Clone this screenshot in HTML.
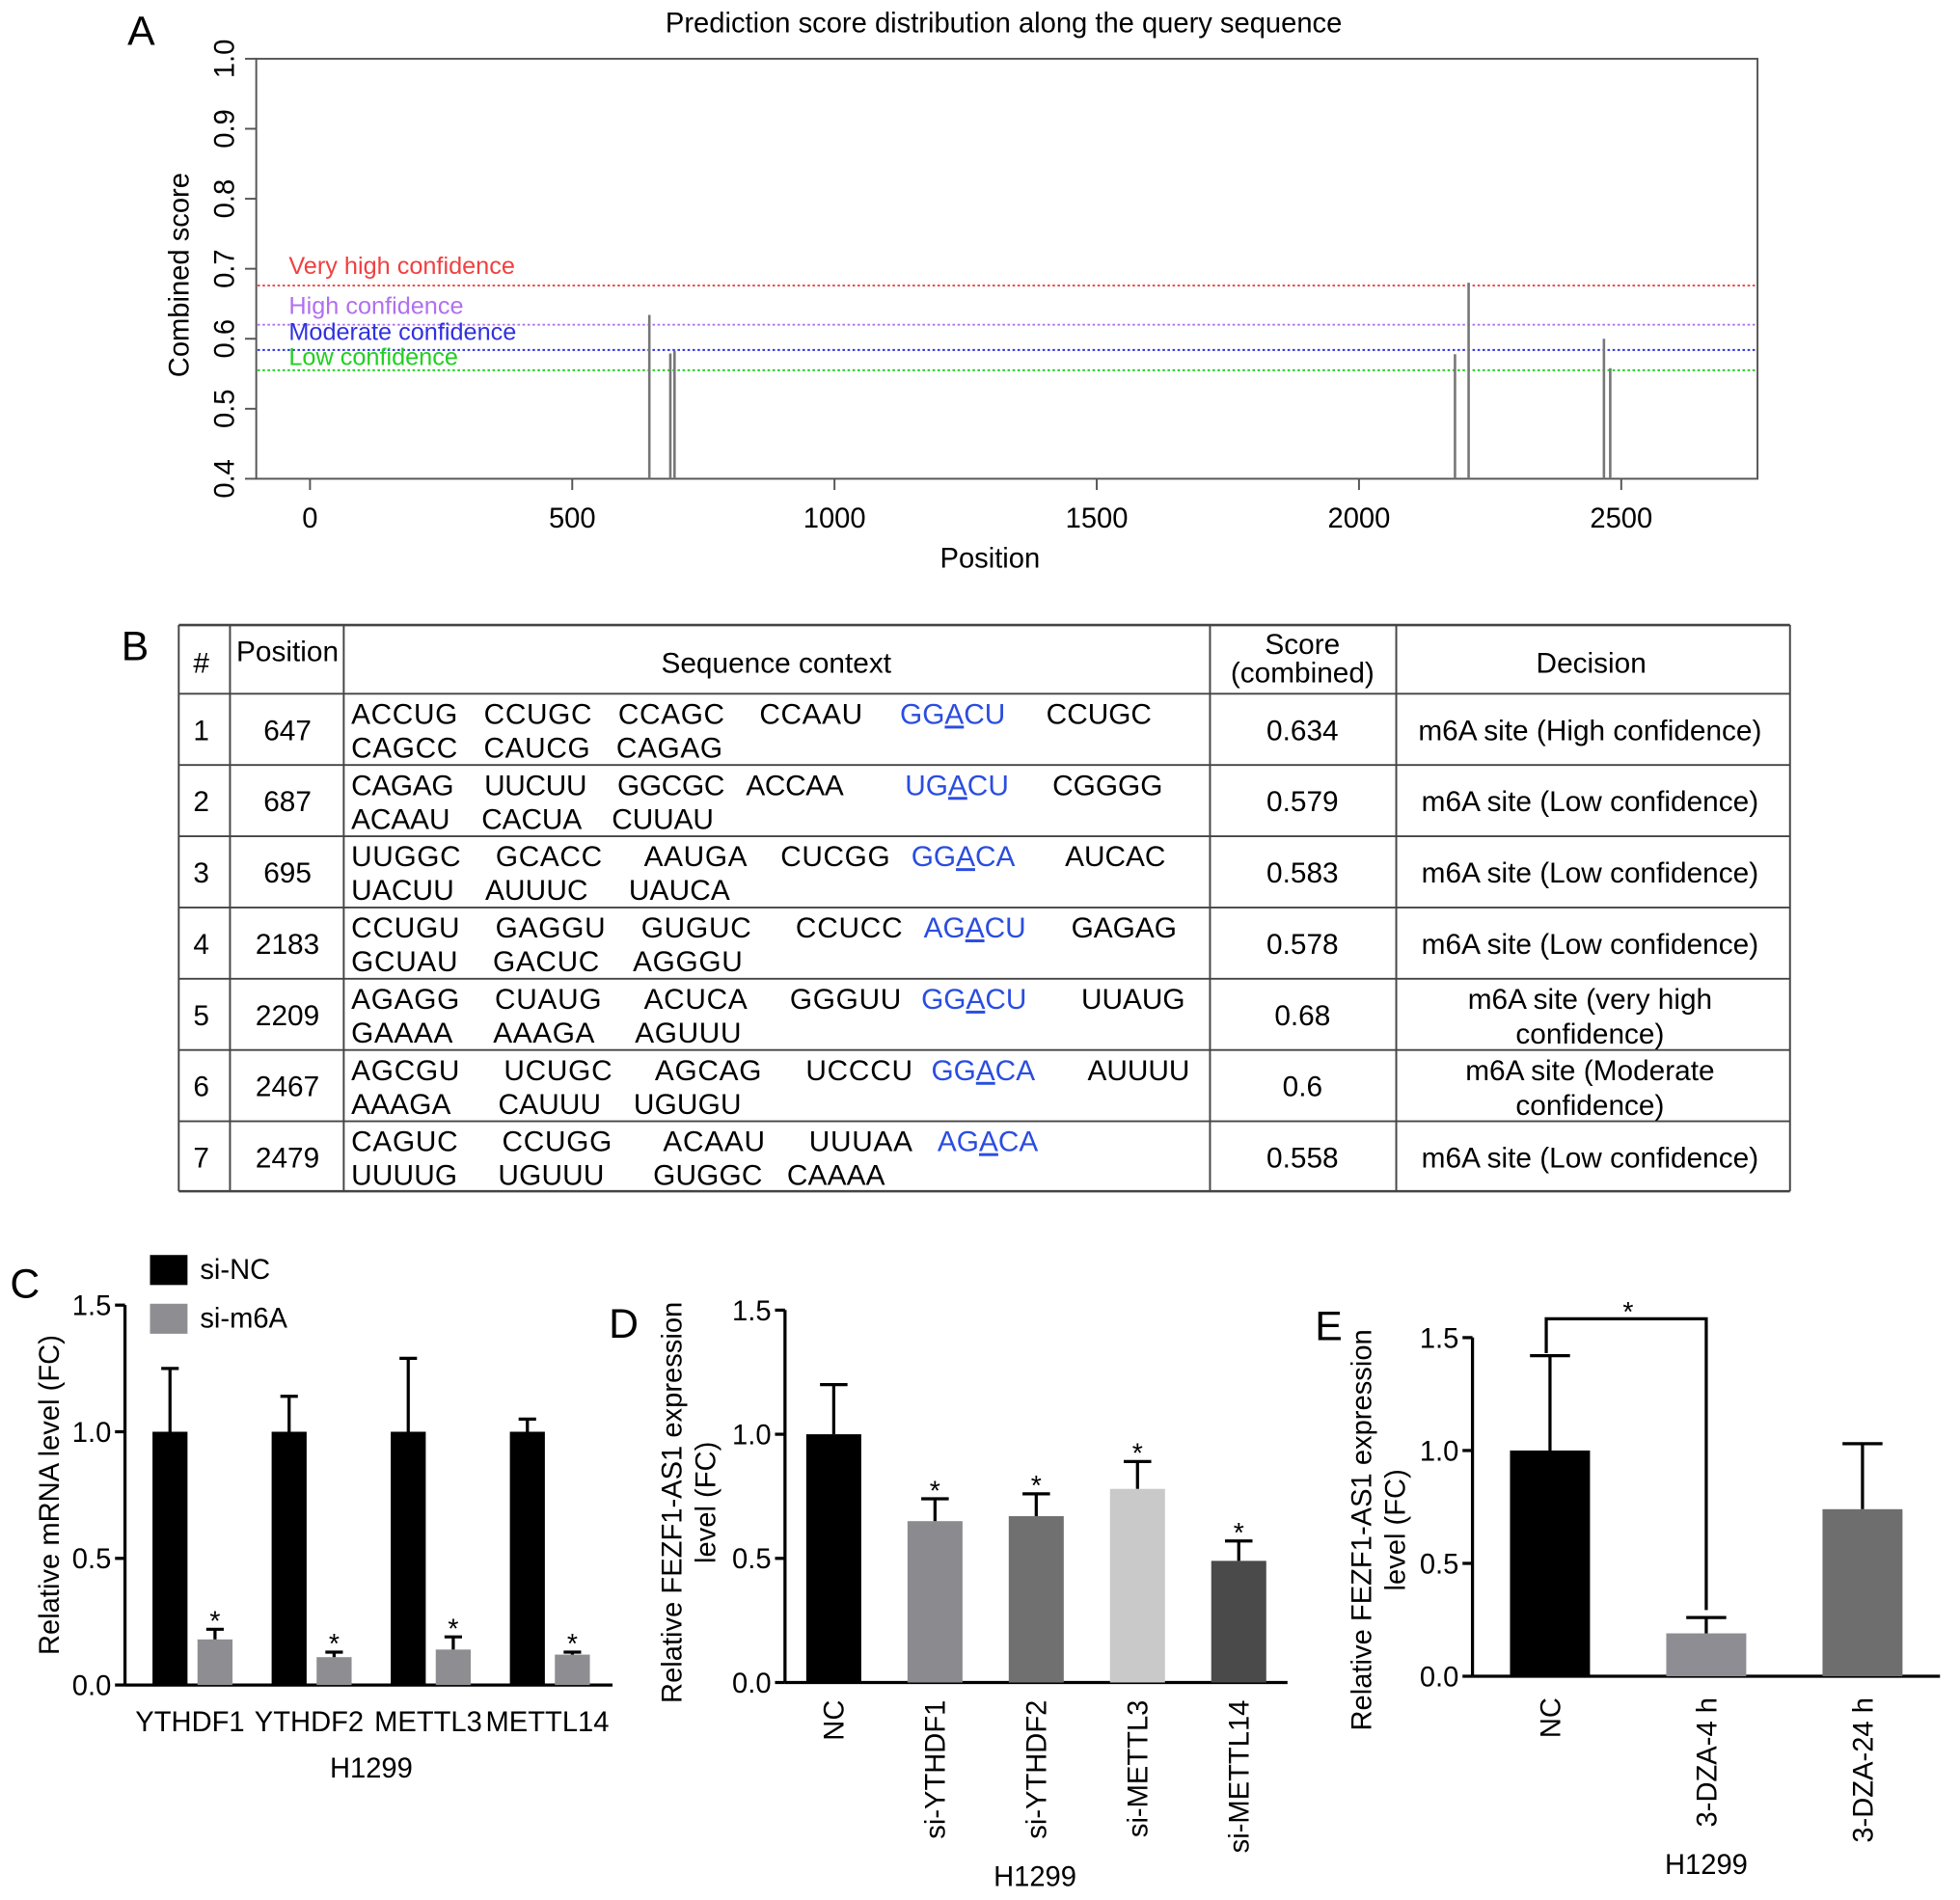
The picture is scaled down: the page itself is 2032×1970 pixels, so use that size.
<!DOCTYPE html>
<html><head><meta charset="utf-8"><style>
html,body{margin:0;padding:0;background:#fff}
svg{display:block;font-family:"Liberation Sans",Arial,sans-serif}
</style></head><body>
<svg id="fig" width="2032" height="1970" viewBox="0 0 1568 1520" preserveAspectRatio="none" xmlns="http://www.w3.org/2000/svg">
<g id="pa">
<text x="102" y="36" font-size="33">A</text>
<text x="803" y="26" font-size="22.5" text-anchor="middle">Prediction score distribution along the query sequence</text>
<rect x="205" y="47" width="1201" height="336" fill="none" stroke="#555" stroke-width="1.5"/>
<text transform="translate(151,220) rotate(-90)" font-size="22.5" text-anchor="middle">Combined score</text>
<text x="792" y="454" font-size="22.5" text-anchor="middle">Position</text>
</g>
<g id="pb">
<text x="97" y="528" font-size="33">B</text>
</g>
<g id="pc">
<text x="8" y="1038" font-size="33">C</text>
</g>
<g id="pd">
<text x="487" y="1070" font-size="33">D</text>
</g>
<g id="pe">
<text x="1052" y="1072" font-size="33">E</text>
</g>
</svg>
<script>
// Panel A data
const positions=[647,687,695,2183,2209,2467,2479];
const scores=[0.634,0.579,0.583,0.578,0.68,0.6,0.558];
const xTicks=[0,500,1000,1500,2000,2500];
const yTicksA=[0.4,0.5,0.6,0.7,0.8,0.9,1.0];
const thrNames=["Very high confidence","High confidence","Moderate confidence","Low confidence"];
const thrValues=[0.676,0.62,0.584,0.555];
// Panel B data
const seqLine1=["ACCUG   CCUGC   CCAGC    CCAAU","CAGAG    UUCUU    GGCGC   ACCAA","UUGGC    GCACC     AAUGA    CUCGG","CCUGU    GAGGU    GUGUC     CCUCC","AGAGG    CUAUG     ACUCA     GGGUU","AGCGU     UCUGC     AGCAG     UCCCU","CAGUC     CCUGG      ACAAU     UUUAA"];
const motifs=["GGACU","UGACU","GGACA","AGACU","GGACU","GGACA","AGACA"];
const seqTail=["CCUGC","CGGGG","AUCAC","GAGAG","UUAUG","AUUUU",""];
const seqLine2=["CAGCC   CAUCG   CAGAG","ACAAU    CACUA    CUUAU","UACUU    AUUUC     UAUCA","GCUAU    GACUC    AGGGU","GAAAA     AAAGA     AGUUU","AAAGA      CAUUU    UGUGU","UUUUG     UGUUU      GUGGC   CAAAA"];
const decisions=[["m6A site (High confidence)"],["m6A site (Low confidence)"],["m6A site (Low confidence)"],["m6A site (Low confidence)"],["m6A site (very high","confidence)"],["m6A site (Moderate","confidence)"],["m6A site (Low confidence)"]];
const scoreText=["0.634","0.579","0.583","0.578","0.68","0.6","0.558"];
// Panel C data
const genesC=["YTHDF1","YTHDF2","METTL3","METTL14"];
const ncVals=[1.0,1.0,1.0,1.0];
const ncErr=[0.25,0.14,0.29,0.05];
const m6aVals=[0.18,0.11,0.14,0.12];
const m6aErr=[0.04,0.02,0.05,0.01];
const yTicksC=[0.0,0.5,1.0,1.5];
// Panel D data
const catsD=["NC","si-YTHDF1","si-YTHDF2","si-METTL3","si-METTL14"];
const valsD=[1.0,0.65,0.67,0.78,0.49];
const errD=[0.2,0.09,0.09,0.11,0.08];
const starD=[false,true,true,true,true];
// Panel E data
const catsE=["NC","3-DZA-4 h","3-DZA-24 h"];
const valsE=[1.0,0.19,0.74];
const errE=[0.42,0.07,0.29];

const NS="http://www.w3.org/2000/svg";
function mk(parent,tag,attrs,text){const e=document.createElementNS(NS,tag);for(const k in attrs)e.setAttribute(k,attrs[k]);if(text!==undefined)e.textContent=text;parent.appendChild(e);return e;}
const FS=22.5;

// ---- Panel A
const pa=document.getElementById('pa');
const xA=v=>248+v*(1297-248)/2500;
const yA=v=>383-(v-0.4)*560;
xTicks.forEach(t=>{
  let l=mk(pa,'line',{x1:xA(t),x2:xA(t),y1:383,y2:392,stroke:'#555','stroke-width':1.5});
  
  let tx=mk(pa,'text',{x:xA(t),y:422,'font-size':FS,'text-anchor':'middle'},String(t));
  
});
yTicksA.forEach(t=>{
  let l=mk(pa,'line',{x1:196,x2:205,y1:yA(t),y2:yA(t),stroke:'#555','stroke-width':1.5});
  
  let tx=mk(pa,'text',{transform:`translate(187,${yA(t)}) rotate(-90)`,'font-size':FS,'text-anchor':'middle'},t.toFixed(1));
  
});
const thrCol=["#f04040","#b070f0","#3030e0","#20d020"];
const thrLab=[213,245,266,286];
thrValues.forEach((v,i)=>{
  let l=mk(pa,'line',{x1:206,x2:1405,y1:yA(v),y2:yA(v),stroke:thrCol[i],'stroke-width':1.5,'stroke-dasharray':'2,2'});
  
  let tx=mk(pa,'text',{x:231,y:thrLab[i]+6,'font-size':19.5,fill:thrCol[i]},thrNames[i]);
  
});
positions.forEach((p,i)=>{
  let l=mk(pa,'line',{x1:xA(p),x2:xA(p),y1:383,y2:yA(scores[i]),stroke:'#777','stroke-width':2});
  
});

// ---- Panel B
const pb=document.getElementById('pb');
const TF=23;
const cols=[143,184,275,968,1117,1432];
const rows=[500,555,612,669,726,783,840,897,953];
rows.forEach((y,i)=>{let l=mk(pb,'line',{x1:143,x2:1432,y1:y,y2:y,stroke:'#444','stroke-width':i==0||i==8?2:1.5});});
cols.forEach(x=>{let l=mk(pb,'line',{x1:x,x2:x,y1:500,y2:953,stroke:'#444','stroke-width':1.5});});
const hd=[["#",161,538],["Position",230,529],["Sequence context",621,538],["Score",1042,523],["(combined)",1042,546],["Decision",1273,538]];
hd.forEach(h=>{let t=mk(pb,'text',{x:h[1],y:h[2],'font-size':TF,'text-anchor':'middle'},h[0]);});
const l1End=[690,675,712,722,721,730,730];
const motifX=[720,724,729,739,737,745,750];
const tailX=[837,842,852,857,865,870,0];
const l2End=[578,571,584,594,593,593,708];
for(let i=0;i<7;i++){
  const y0=rows[i+1];
  let t=mk(pb,'text',{x:161,y:y0+37,'font-size':TF,'text-anchor':'middle'},String(i+1));
  t=mk(pb,'text',{x:230,y:y0+37,'font-size':TF,'text-anchor':'middle'},String(positions[i]));
  t=mk(pb,'text',{x:281,y:y0+24,'font-size':TF,textLength:l1End[i]-281,lengthAdjust:'spacing'},seqLine1[i]);t.setAttribute('style','white-space:pre');
  t=mk(pb,'text',{x:motifX[i],y:y0+24,'font-size':TF,fill:'#2a4de0'});
  t.innerHTML=`${motifs[i][0]}${motifs[i][1]}<tspan text-decoration="underline">${motifs[i][2]}</tspan>${motifs[i].slice(3)}`;
  
  if(seqTail[i]){t=mk(pb,'text',{x:tailX[i],y:y0+24,'font-size':TF},seqTail[i]);}
  t=mk(pb,'text',{x:281,y:y0+51,'font-size':TF,textLength:l2End[i]-281,lengthAdjust:'spacing'},seqLine2[i]);t.setAttribute('style','white-space:pre');
  t=mk(pb,'text',{x:1042,y:y0+37,'font-size':TF,'text-anchor':'middle'},scoreText[i]);
  const d=decisions[i];
  d.forEach((s,j)=>{const yy=d.length==1?y0+37:y0+24+j*28;t=mk(pb,'text',{x:1272,y:yy,'font-size':TF,'text-anchor':'middle'},s);});
}

// ---- generic axis helper
function yaxis(g,x0,yZero,ppu,ticks,top){
  let l=mk(g,'line',{x1:x0,x2:x0,y1:top,y2:yZero,stroke:'#000','stroke-width':2.5});
  ticks.forEach(t=>{const y=yZero-t*ppu;
    let k=mk(g,'line',{x1:x0-8,x2:x0,y1:y,y2:y,stroke:'#000','stroke-width':2.5});
    let tx=mk(g,'text',{x:x0-11,y:y+8,'font-size':FS,'text-anchor':'end'},t.toFixed(1));});
}
function errbar(g,cx,yTop,yErr,w){
  let l=mk(g,'line',{x1:cx,x2:cx,y1:yTop,y2:yErr,stroke:'#000','stroke-width':2.5});
  l=mk(g,'line',{x1:cx-w/2,x2:cx+w/2,y1:yErr,y2:yErr,stroke:'#000','stroke-width':2.5});
}

// ---- Panel C
const pc=document.getElementById('pc');
const yC0=1348,ppC=202.6;
yaxis(pc,100,yC0,ppC,yTicksC,1044);
let ax=mk(pc,'line',{x1:100,x2:490,y1:yC0,y2:yC0,stroke:'#000','stroke-width':2.5});
let tt=mk(pc,'text',{transform:'translate(47,1196) rotate(-90)','font-size':FS,'text-anchor':'middle'},'Relative mRNA level (FC)');
genesC.forEach((g,i)=>{
  const cx=154+i*95.3;
  let y=yC0-ncVals[i]*ppC;
  let r=mk(pc,'rect',{x:cx-32,y:y,width:28,height:yC0-y,fill:'#000'});
  errbar(pc,cx-18,y,yC0-(ncVals[i]+ncErr[i])*ppC,14);
  y=yC0-m6aVals[i]*ppC;
  r=mk(pc,'rect',{x:cx+4,y:y,width:28,height:yC0-y,fill:'#8e8e92'});
  const ye=yC0-(m6aVals[i]+m6aErr[i])*ppC;
  errbar(pc,cx+18,y,ye,14);
  let s=mk(pc,'text',{x:cx+18,y:ye+1,'font-size':22,'text-anchor':'middle'},'*');
  let t=mk(pc,'text',{x:cx-2,y:1385,'font-size':FS,'text-anchor':'middle'},g);
});
tt=mk(pc,'text',{x:297,y:1422,'font-size':FS,'text-anchor':'middle'},'H1299');
let lg=mk(pc,'rect',{x:120,y:1004,width:30,height:24,fill:'#000'});
lg=mk(pc,'text',{x:160,y:1023,'font-size':FS},'si-NC');
lg=mk(pc,'rect',{x:120,y:1043,width:30,height:24,fill:'#8e8e92'});
lg=mk(pc,'text',{x:160,y:1062,'font-size':FS},'si-m6A');

// ---- Panel D
const pd=document.getElementById('pd');
const yD0=1346,ppD=198.6;
yaxis(pd,628,yD0,ppD,yTicksC,1048);
ax=mk(pd,'line',{x1:628,x2:1030,y1:yD0,y2:yD0,stroke:'#000','stroke-width':2.5});
tt=mk(pd,'text',{transform:'translate(545,1202) rotate(-90)','font-size':FS,'text-anchor':'middle'},'Relative FEZF1-AS1 expression');
tt=mk(pd,'text',{transform:'translate(572,1202) rotate(-90)','font-size':FS,'text-anchor':'middle'},'level (FC)');
const colD=['#000','#8b8b8f','#707070','#c9c9c9','#4a4a4a'];
catsD.forEach((c,i)=>{
  const cx=667+i*81;
  const y=yD0-valsD[i]*ppD;
  let r=mk(pd,'rect',{x:cx-22,y:y,width:44,height:yD0-y,fill:colD[i]});
  const ye=yD0-(valsD[i]+errD[i])*ppD;
  errbar(pd,cx,y,ye,22);
  if(starD[i]){let s=mk(pd,'text',{x:cx,y:ye+1,'font-size':22,'text-anchor':'middle'},'*');}
  let t=mk(pd,'text',{transform:`translate(${cx+8},1360) rotate(-90)`,'font-size':FS,'text-anchor':'end'},c);
});
tt=mk(pd,'text',{x:828,y:1509,'font-size':FS,'text-anchor':'middle'},'H1299');

// ---- Panel E
const pe=document.getElementById('pe');
const yE0=1341,ppE=180.6;
yaxis(pe,1178,yE0,ppE,yTicksC,1070);
ax=mk(pe,'line',{x1:1178,x2:1552,y1:yE0,y2:yE0,stroke:'#000','stroke-width':2.5});
tt=mk(pe,'text',{transform:'translate(1097,1224) rotate(-90)','font-size':FS,'text-anchor':'middle'},'Relative FEZF1-AS1 expression');
tt=mk(pe,'text',{transform:'translate(1124,1224) rotate(-90)','font-size':FS,'text-anchor':'middle'},'level (FC)');
const colE=['#000','#8d8d93','#6e6e6e'];
const cxE=[];
catsE.forEach((c,i)=>{
  const cx=1240+i*125;cxE.push(cx);
  const y=yE0-valsE[i]*ppE;
  let r=mk(pe,'rect',{x:cx-32,y:y,width:64,height:yE0-y,fill:colE[i]});
  errbar(pe,cx,y,yE0-(valsE[i]+errE[i])*ppE,32);
  let t=mk(pe,'text',{transform:`translate(${cx+8},1358) rotate(-90)`,'font-size':FS,'text-anchor':'end'},c);
});
const bTop=1055;
let br=mk(pe,'polyline',{points:`${cxE[0]-3},${yE0-(valsE[0]+errE[0])*ppE-2} ${cxE[0]-3},${bTop} ${cxE[1]},${bTop} ${cxE[1]},${yE0-(valsE[1]+errE[1])*ppE-6}`,fill:'none',stroke:'#000','stroke-width':2.5});

tt=mk(pe,'text',{x:(cxE[0]+cxE[1])/2,y:bTop+2,'font-size':22,'text-anchor':'middle'},'*');
tt=mk(pe,'text',{x:1365,y:1499,'font-size':FS,'text-anchor':'middle'},'H1299');
</script>
</body></html>
